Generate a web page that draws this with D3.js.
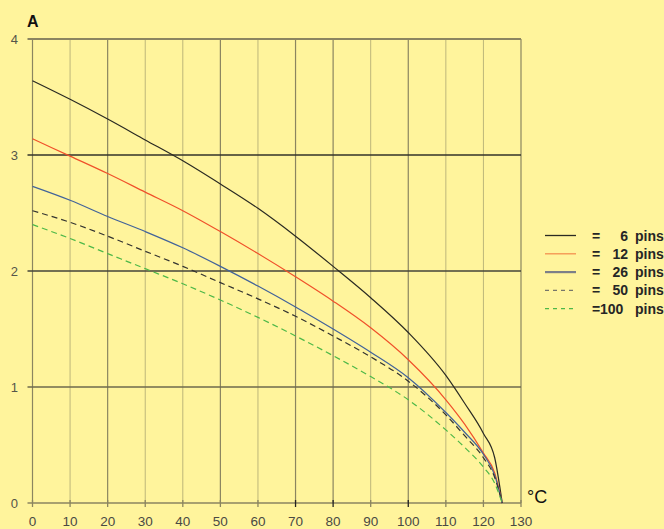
<!DOCTYPE html>
<html>
<head>
<meta charset="utf-8">
<script src="https://cdn.jsdelivr.net/npm/d3@7"></script>
<style>
  body { margin: 0; background: #fff49c; }
  text { font-family: "Liberation Sans", Arial, sans-serif; }
</style>
</head>
<body>
<div id="chart"></div>
<script>
// temperature points (°C)
const temps = [0, 10, 20, 30, 40, 50, 60, 70, 80, 90, 100, 110, 115, 120, 123, 125];

// current (A) for each pin count
const pins6   = [3.64, 3.48, 3.31, 3.13, 2.95, 2.75, 2.54, 2.30, 2.04, 1.77, 1.47, 1.10, 0.86, 0.60, 0.39, 0];
const pins12  = [3.14, 2.99, 2.84, 2.68, 2.52, 2.34, 2.15, 1.95, 1.74, 1.51, 1.235, 0.89, 0.68, 0.43, 0.26, 0];
const pins26  = [2.73, 2.61, 2.47, 2.34, 2.20, 2.04, 1.87, 1.69, 1.50, 1.30, 1.08, 0.78, 0.61, 0.42, 0.24, 0];
const pins50  = [2.52, 2.42, 2.30, 2.17, 2.04, 1.90, 1.76, 1.61, 1.44, 1.26, 1.05, 0.76, 0.58, 0.39, 0.22, 0];
const pins100 = [2.40, 2.28, 2.15, 2.02, 1.89, 1.75, 1.60, 1.44, 1.27, 1.09, 0.89, 0.63, 0.48, 0.31, 0.17, 0];

const xTicks = d3.range(0, 131, 10);
const yTicks = [0, 1, 2, 3, 4];
const legendNums = ["6", "12", "26", "50", "100"];

const series = [
  { name: "6",   values: pins6,   color: "#2a2a22", legendColor: "#2a2a22", dash: null },
  { name: "12",  values: pins12,  color: "#f0502a", legendColor: "#f49050", dash: null },
  { name: "26",  values: pins26,  color: "#42639a", legendColor: "#7c7f88", dash: null },
  { name: "50",  values: pins50,  color: "#333330", legendColor: "#77766a", dash: "6,4" },
  { name: "100", values: pins100, color: "#4db848", legendColor: "#4db848", dash: "6,4" },
];

const width = 664, height = 529;
const margin = { top: 39, right: 143, bottom: 26, left: 32.5 };

const x = d3.scaleLinear().domain([0, 130]).range([margin.left, width - margin.right]);
const y = d3.scaleLinear().domain([0, 4]).range([height - margin.bottom, margin.top]);

const svg = d3.select("#chart").append("svg")
  .attr("width", width)
  .attr("height", height)
  .style("display", "block");

svg.append("rect").attr("width", width).attr("height", height).attr("fill", "#fff49c");

// vertical grid, some lines come out darker in the original
const darkX = [0, 20, 50, 70, 80, 100, 130];
svg.append("g")
  .selectAll("line")
  .data(xTicks)
  .join("line")
  .attr("x1", d => x(d)).attr("x2", d => x(d))
  .attr("y1", y(4)).attr("y2", y(0))
  .attr("stroke", d => darkX.includes(d) ? "#8b8560" : "#bdb67a")
  .attr("stroke-width", d => darkX.includes(d) ? 1.2 : 1);

// horizontal grid
const hColor = { 0: "#8b8560", 1: "#6e6a4c", 2: "#45443a", 3: "#33332a", 4: "#8b8560" };
svg.append("g")
  .selectAll("line")
  .data(yTicks)
  .join("line")
  .attr("x1", d => x(0) - 5).attr("x2", x(130))
  .attr("y1", d => y(d)).attr("y2", d => y(d))
  .attr("stroke", d => hColor[d])
  .attr("stroke-width", d => d === 4 ? 2 : 1.3);

// x ticks under the axis
svg.append("g")
  .selectAll("line")
  .data(xTicks)
  .join("line")
  .attr("x1", d => x(d)).attr("x2", d => x(d))
  .attr("y1", y(0) - 3).attr("y2", y(0) + 4)
  .attr("stroke", d => [70, 80, 100].includes(d) ? "#222" : "#8b8560")
  .attr("stroke-width", 1.3);

// axis labels
svg.append("g")
  .selectAll("text")
  .data(xTicks)
  .join("text")
  .attr("x", d => x(d))
  .attr("y", 526)
  .attr("text-anchor", "middle")
  .attr("font-size", 13.5)
  .attr("fill", "#4a4a44")
  .text(d => d);

svg.append("g")
  .selectAll("text")
  .data(yTicks)
  .join("text")
  .attr("x", 18)
  .attr("y", d => y(d) + 5)
  .attr("text-anchor", "end")
  .attr("font-size", 13)
  .attr("fill", "#55554a")
  .text(d => d);

svg.append("text")
  .attr("x", 27).attr("y", 27)
  .attr("font-size", 16).attr("font-weight", "bold")
  .attr("fill", "#111")
  .text("A");

svg.append("text")
  .attr("x", 527).attr("y", 503)
  .attr("font-size", 18)
  .attr("fill", "#111")
  .text("°C");

// curves
const line = d3.line()
  .x((d, i) => x(temps[i]))
  .y(d => y(d))
  .curve(d3.curveMonotoneX);

svg.append("g")
  .selectAll("path")
  .data(series)
  .join("path")
  .attr("fill", "none")
  .attr("stroke", d => d.color)
  .attr("stroke-width", 1.2)
  .attr("stroke-dasharray", d => d.dash)
  .attr("d", d => line(d.values));

// legend
const legend = svg.append("g")
  .selectAll("g")
  .data(series)
  .join("g")
  .attr("transform", (d, i) => `translate(0, ${235.5 + i * 18.3})`);

legend.append("line")
  .attr("x1", 545).attr("x2", 576)
  .attr("stroke", d => d.legendColor)
  .attr("stroke-width", d => d.name === "26" ? 2.2 : 1.3)
  .attr("stroke-dasharray", d => d.dash ? "4,4" : null);

const legendText = legend.append("text")
  .attr("y", 5)
  .attr("font-size", 14).attr("font-weight", "bold").attr("fill", "#262626");

legendText.append("tspan").attr("x", 592).text("=");
legendText.append("tspan")
  .attr("x", (d, i) => legendNums[i].length > 2 ? 600 : 628)
  .attr("text-anchor", (d, i) => legendNums[i].length > 2 ? "start" : "end")
  .text((d, i) => legendNums[i]);
legendText.append("tspan").attr("x", 635).attr("text-anchor", "start").text("pins");
</script>
</body>
</html>
